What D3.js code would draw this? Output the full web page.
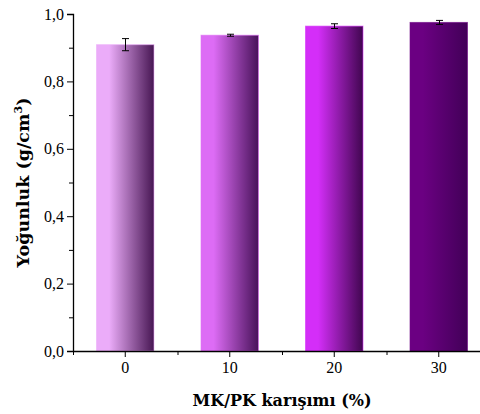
<!DOCTYPE html>
<html>
<head>
<meta charset="utf-8">
<script src="https://cdn.jsdelivr.net/npm/d3@7"></script>
<style>
  html, body { margin: 0; padding: 0; background: #fff; }
  svg { display: block; }
</style>
</head>
<body>
<svg id="chart"></svg>
<script>
'use strict';

// ── データ ──
const categories = ['0', '10', '20', '30'];
const density = [0.909, 0.937, 0.964, 0.975];
const densityErr = [0.018, 0.003, 0.007, 0.006];
const yTicks = [0, 0.2, 0.4, 0.6, 0.8, 1.0];
const gradLeft = ['#ebacf9', '#dd6cf5', '#d42ef8', '#6b0082'];
const gradRight = ['#471653', '#48125a', '#410650', '#420058'];

// ── レイアウト ──
const W = 480, H = 414;
const m = { left: 73, top: 14, right: -11, bottom: 63 };

const svg = d3.select('#chart').attr('width', W).attr('height', H);
const tickFont = '"Liberation Serif", serif';
const titleFont = '"DejaVu Serif", serif';

const x = d3.scaleBand()
  .domain(categories)
  .range([m.left, W - m.right])
  .paddingInner(0.45)
  .paddingOuter(0.225);

const y = d3.scaleLinear()
  .domain([0, 1])
  .range([H - m.bottom, m.top]);

// グラデーション
const defs = svg.append('defs');
categories.forEach((c, i) => {
  const lg = defs.append('linearGradient')
    .attr('id', 'g' + i)
    .attr('x1', '0%').attr('x2', '100%')
    .attr('y1', '0%').attr('y2', '0%');
  lg.append('stop').attr('offset', '0%').attr('stop-color', gradLeft[i]);
  lg.append('stop').attr('offset', '22%').attr('stop-color', gradLeft[i]);
  lg.append('stop').attr('offset', '100%').attr('stop-color', gradRight[i]);
});

// 棒
svg.append('g').selectAll('rect')
  .data(density)
  .join('rect')
  .attr('x', (d, i) => x(categories[i]))
  .attr('y', d => y(d))
  .attr('width', x.bandwidth())
  .attr('height', d => y(0) - y(d))
  .attr('fill', (d, i) => `url(#g${i})`)
  .attr('stroke', (d, i) => gradLeft[i])
  .attr('stroke-opacity', 0.6)
  .attr('stroke-width', 1);

// エラーバー
const eb = svg.append('g').attr('stroke', '#000').attr('stroke-width', 1);
density.forEach((d, i) => {
  const cx = Math.round(x(categories[i]) + x.bandwidth() / 2) + 0.5;
  const lo = y(d - densityErr[i]), hi = y(d + densityErr[i]);
  eb.append('line').attr('x1', cx).attr('x2', cx).attr('y1', lo).attr('y2', hi);
  eb.append('line').attr('x1', cx - 3.5).attr('x2', cx + 3.5).attr('y1', lo).attr('y2', lo);
  eb.append('line').attr('x1', cx - 3.5).attr('x2', cx + 3.5).attr('y1', hi).attr('y2', hi);
});

// Y軸
svg.append('g')
  .attr('transform', `translate(${m.left},0)`)
  .call(d3.axisLeft(y).tickValues(yTicks).tickSize(6).tickPadding(3)
    .tickFormat(d => d3.format('.1f')(d).replace('.', ',')));
svg.append('g')
  .attr('transform', `translate(${m.left},0)`)
  .call(d3.axisLeft(y).tickValues(d3.range(0.1, 1, 0.2)).tickSize(4).tickFormat(''))
  .select('.domain').remove();

// X軸
const xLin = d3.scaleLinear().domain([-0.5, 3.5]).range([m.left, W - m.right]);
svg.append('g')
  .attr('transform', `translate(0,${H - m.bottom})`)
  .call(d3.axisBottom(x).tickSize(6).tickPadding(5).tickSizeOuter(0));
svg.append('g')
  .attr('transform', `translate(0,${H - m.bottom})`)
  .call(d3.axisBottom(xLin).tickValues([-0.5, 0.5, 1.5, 2.5, 3.5]).tickSize(4).tickFormat(''))
  .select('.domain').remove();

svg.selectAll('.domain').attr('stroke', '#000').attr('stroke-width', 1.3);
svg.selectAll('.tick line').attr('stroke', '#000');
svg.selectAll('.tick text')
  .attr('font-family', tickFont)
  .attr('font-size', 16)
  .attr('fill', '#000');

// 軸タイトル
svg.append('text')
  .attr('x', (m.left + W - m.right) / 2)
  .attr('y', 406)
  .attr('text-anchor', 'middle')
  .attr('font-family', titleFont)
  .attr('font-weight', 'bold')
  .attr('font-size', 16)
  .text('MK/PK karışımı (%)');

const yt = svg.append('text')
  .attr('transform', `translate(29,${(y(0) + y(1)) / 2}) rotate(-90)`)
  .attr('text-anchor', 'middle')
  .attr('font-family', titleFont)
  .attr('font-weight', 'bold')
  .attr('font-size', 17.5);
yt.append('tspan').text('Yoğunluk (g/cm');
yt.append('tspan').attr('dy', -7).attr('font-size', 11).text('3');
yt.append('tspan').attr('dy', 7).text(')');
</script>
</body>
</html>
